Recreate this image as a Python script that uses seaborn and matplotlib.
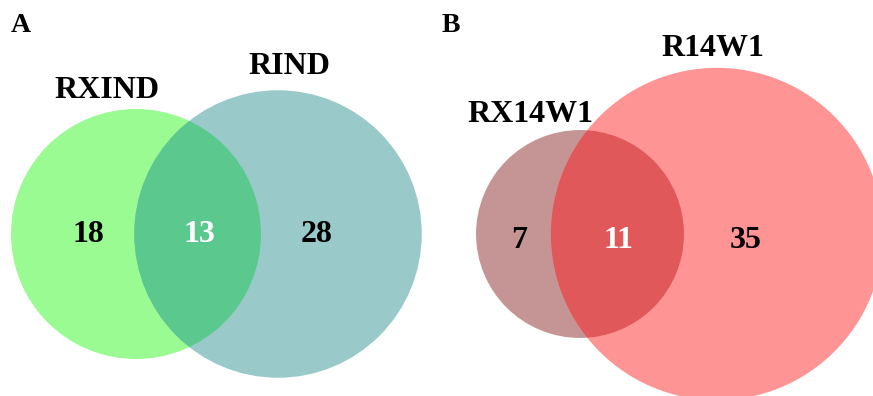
import numpy as np
import seaborn as sns
import matplotlib.pyplot as plt
from matplotlib.patches import Circle

# set sizes (only / shared / only)
panels = ['A', 'B']
set_names = [['RXIND', 'RIND'], ['RX14W1', 'R14W1']]
only_left = [18, 7]
shared = [13, 11]
only_right = [28, 35]

# colours: left circle, right circle, overlap
left_colors = ['#99FB92', '#C59595']
right_colors = ['#99C9C9', '#FF9494']
overlap_colors = ['#5BC98E', '#E05859']

sns.set_theme(style='white')
plt.rcParams['font.family'] = ['Liberation Serif', 'DejaVu Serif']
plt.rcParams['font.weight'] = 'bold'

# layout in pixels of the 873x396 canvas
scale = [22.45, 24.5]            # radius = scale * sqrt(set size)
left_cx = [136, 580]
right_cx = [278, 717]
cy = [234, 234]
panel_xy = [(21, 26), (451, 26)]
left_name_xy = [(107, 91), (530, 114)]
right_name_xy = [(289, 67), (713, 48)]
number_y = [234, 241]
number_x = [(88, 199, 317), (519, 619, 746)]

fig = plt.figure(figsize=(8.73, 3.96), dpi=100)
ax = fig.add_axes([0, 0, 1, 1])
ax.set_xlim(0, 873)
ax.set_ylim(396, 0)
ax.set_aspect('equal')
ax.axis('off')

for i in range(len(panels)):
    r_left = scale[i] * np.sqrt(only_left[i] + shared[i])
    r_right = scale[i] * np.sqrt(only_right[i] + shared[i])

    c1 = Circle((left_cx[i], cy[i]), r_left, facecolor=left_colors[i],
                edgecolor='none', zorder=1)
    c2 = Circle((right_cx[i], cy[i]), r_right, facecolor=right_colors[i],
                edgecolor='none', zorder=2)
    ax.add_patch(c1)
    ax.add_patch(c2)

    # overlap region: right circle clipped by the left one
    c3 = Circle((right_cx[i], cy[i]), r_right, facecolor=overlap_colors[i],
                edgecolor='none', zorder=3)
    ax.add_patch(c3)
    c3.set_clip_path(c1)

    ax.text(*panel_xy[i], panels[i], fontsize=20, fontweight='bold',
            ha='center', va='center', color='black')
    ax.text(*left_name_xy[i], set_names[i][0], fontsize=23, fontweight='bold',
            ha='center', va='center', color='black')
    ax.text(*right_name_xy[i], set_names[i][1], fontsize=23, fontweight='bold',
            ha='center', va='center', color='black')

    values = [only_left[i], shared[i], only_right[i]]
    colors = ['black', 'white', 'black']
    for x, v, c in zip(number_x[i], values, colors):
        ax.text(x, number_y[i], str(v), fontsize=23, fontweight='bold',
                ha='center', va='center', color=c, zorder=5)

fig.savefig('out.png', dpi=100)
